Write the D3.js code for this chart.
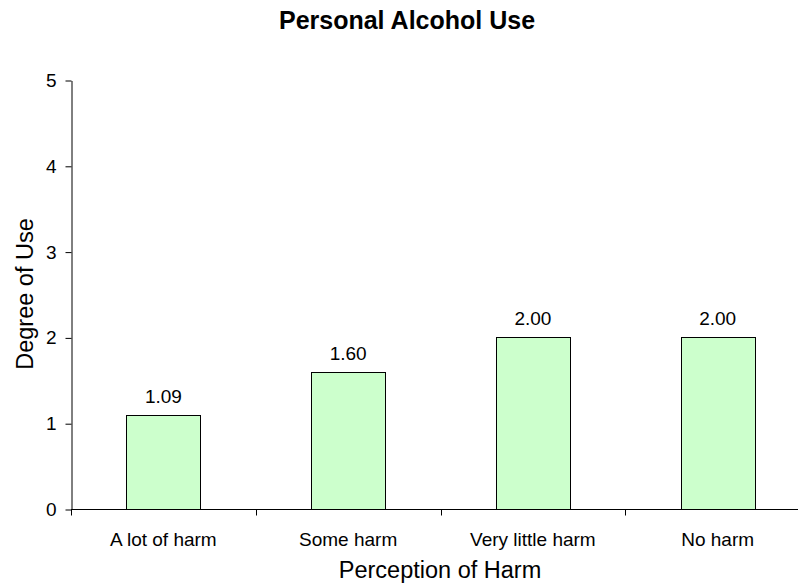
<!DOCTYPE html>
<html>
<head>
<meta charset="utf-8">
<script src="https://cdn.jsdelivr.net/npm/d3@7"></script>
<style>
  html, body { margin: 0; padding: 0; background: #fff; }
  svg { display: block; font-family: "Liberation Sans", Arial, sans-serif; }
</style>
</head>
<body>
<svg id="chart" width="798" height="585"></svg>
<script>
// Chart data
const categories = ["A lot of harm", "Some harm", "Very little harm", "No harm"];
const values = [1.09, 1.60, 2.00, 2.00];
const yTicks = [0, 1, 2, 3, 4, 5];

const chartTitle = "Personal Alcohol Use";
const xTitle = "Perception of Harm";
const yTitle = "Degree of Use";

const svg = d3.select("#chart");
const plot = { left: 71, right: 810, top: 80, bottom: 509 };
const labelSize = 19;

const x = d3.scaleBand()
  .domain(categories)
  .range([plot.left, plot.right])
  .paddingInner(0.6)
  .paddingOuter(0.3);

const y = d3.scaleLinear()
  .domain([0, 5])
  .range([plot.bottom, plot.top]);

// Bars
svg.append("g")
  .selectAll("rect")
  .data(values)
  .join("rect")
  .attr("x", (d, i) => Math.round(x(categories[i])) + 0.5)
  .attr("y", d => Math.round(y(d)) + 0.5)
  .attr("width", Math.round(x.bandwidth()))
  .attr("height", d => Math.round(y(0)) - Math.round(y(d)))
  .attr("fill", "#ccffcc")
  .attr("stroke", "#000")
  .attr("stroke-width", 1);

// Value labels
svg.append("g")
  .selectAll("text")
  .data(values)
  .join("text")
  .attr("x", (d, i) => x(categories[i]) + x.bandwidth() / 2)
  .attr("y", d => y(d) - 12)
  .attr("text-anchor", "middle")
  .attr("font-size", labelSize)
  .attr("fill", "#000")
  .text(d => d.toFixed(2));

// Y axis
const yAxis = d3.axisLeft(y)
  .tickValues(yTicks)
  .tickFormat(d3.format("d"))
  .tickSize(6)
  .tickSizeOuter(0)
  .tickPadding(9);

const gy = svg.append("g")
  .attr("transform", `translate(${plot.left + 0.5},0.5)`)
  .call(yAxis);
gy.select(".domain").attr("stroke", "#000");
gy.selectAll(".tick line").attr("stroke", "#000");
gy.selectAll(".tick text")
  .attr("font-size", labelSize)
  .attr("font-family", "Liberation Sans, Arial, sans-serif")
  .attr("fill", "#000");

// X axis: ticks sit on the category boundaries
const gx = svg.append("g")
  .attr("transform", `translate(0,${plot.bottom + 0.5})`);
gx.append("line")
  .attr("x1", plot.left)
  .attr("x2", plot.right)
  .attr("stroke", "#000");
const boundaries = d3.range(categories.length + 1).map(i => plot.left + i * x.step());
gx.selectAll("line.tick")
  .data(boundaries)
  .join("line")
  .attr("class", "tick")
  .attr("x1", d => Math.round(d) + 0.5)
  .attr("x2", d => Math.round(d) + 0.5)
  .attr("y1", 0)
  .attr("y2", 6)
  .attr("stroke", "#000");
gx.selectAll("text")
  .data(categories)
  .join("text")
  .attr("x", d => x(d) + x.bandwidth() / 2)
  .attr("y", 36)
  .attr("text-anchor", "middle")
  .attr("font-size", labelSize)
  .attr("fill", "#000")
  .text(d => d);

// Titles
svg.append("text")
  .attr("x", 407)
  .attr("y", 29)
  .attr("text-anchor", "middle")
  .attr("font-size", 25)
  .attr("font-weight", "bold")
  .text(chartTitle);

svg.append("text")
  .attr("x", 440)
  .attr("y", 578)
  .attr("text-anchor", "middle")
  .attr("font-size", 23.5)
  .text(xTitle);

svg.append("text")
  .attr("transform", "translate(33,294) rotate(-90)")
  .attr("text-anchor", "middle")
  .attr("font-size", 23.5)
  .text(yTitle);
</script>
</body>
</html>
